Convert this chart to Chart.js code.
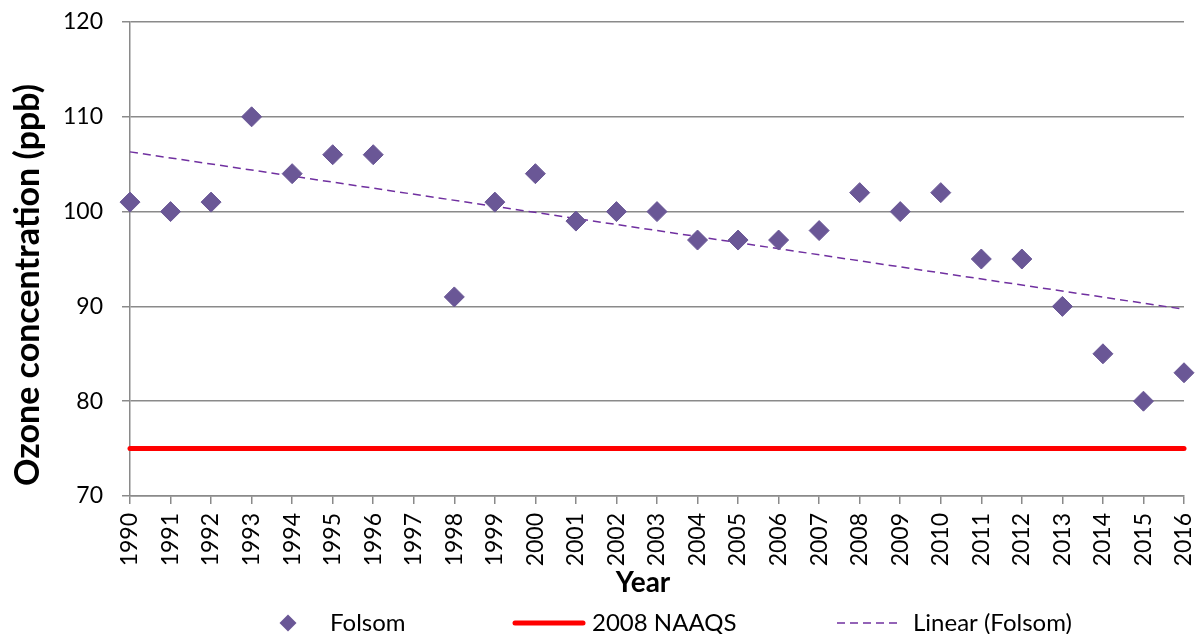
<!DOCTYPE html>
<html>
<head>
<meta charset="utf-8">
<script src="https://cdn.jsdelivr.net/npm/chart.js@4/dist/chart.umd.min.js"></script>
<style>
  html, body { margin: 0; padding: 0; background: #fff; }
  #wrap { width: 1198px; height: 634px; }
</style>
</head>
<body>
<div id="wrap"><canvas id="ozoneChart" width="1198" height="634"></canvas></div>
<script>
// values
const years = [1990, 1991, 1992, 1993, 1994, 1995, 1996, 1998, 1999, 2000, 2001, 2002, 2003,
    2004, 2005, 2006, 2007, 2008, 2009, 2010, 2011, 2012, 2013, 2014, 2015, 2016];
const folsom = [101, 100, 101, 110, 104, 106, 106, 91, 101, 104, 99, 100, 100,
    97, 97, 97, 98, 102, 100, 102, 95, 95, 90, 85, 80, 83];
const naaqsYears = [1990, 2016];
const naaqsValues = [75, 75];
const trendYears = [1990, 2016];
const trendValues = [106.3, 89.7];
const yTicks = [70, 80, 90, 100, 110, 120];

const FONT = 'Lato, "Open Sans", sans-serif';
const GRID = '#8a8a8a';
const PURPLE = '#6A5796';

function toPoints(xs, ys) {
    return xs.map((x, i) => ({ x: x, y: ys[i] }));
}

// titles + legend drawn on the canvas
const extras = {
    id: 'extras',
    afterDraw(chart) {
        const ctx = chart.ctx;
        ctx.save();
        ctx.fillStyle = '#000';

        // y axis title
        ctx.font = 'bold 34px ' + FONT;
        ctx.textAlign = 'center';
        ctx.textBaseline = 'middle';
        ctx.translate(28, 285);
        ctx.rotate(-Math.PI / 2);
        ctx.fillText('Ozone concentration (ppb)', 0, 0);
        ctx.setTransform(1, 0, 0, 1, 0, 0);

        // x axis title
        ctx.font = 'bold 28px ' + FONT;
        ctx.fillText('Year', 643, 583);

        // legend
        const ds = chart.data.datasets;
        const ly = 623;
        ctx.font = '24px ' + FONT;
        ctx.textAlign = 'left';

        // Folsom diamond
        ctx.fillStyle = ds[0].backgroundColor;
        ctx.beginPath();
        ctx.moveTo(288 - 8.5, ly);
        ctx.lineTo(288, ly - 8.5);
        ctx.lineTo(288 + 8.5, ly);
        ctx.lineTo(288, ly + 8.5);
        ctx.closePath();
        ctx.fill();
        ctx.fillStyle = '#000';
        ctx.fillText(ds[0].label, 330, ly);

        // NAAQS line
        ctx.strokeStyle = ds[1].borderColor;
        ctx.lineWidth = ds[1].borderWidth;
        ctx.lineCap = 'round';
        ctx.beginPath();
        ctx.moveTo(515, ly);
        ctx.lineTo(583, ly);
        ctx.stroke();
        ctx.fillText(ds[1].label, 592, ly);

        // trend line
        ctx.strokeStyle = ds[2].borderColor;
        ctx.lineWidth = ds[2].borderWidth;
        ctx.lineCap = 'butt';
        ctx.setLineDash(ds[2].borderDash);
        ctx.beginPath();
        ctx.moveTo(837, ly);
        ctx.lineTo(898, ly);
        ctx.stroke();
        ctx.setLineDash([]);
        ctx.fillText(ds[2].label, 913, ly);

        ctx.restore();
    }
};

document.addEventListener('DOMContentLoaded', function () {
    const ctx = document.getElementById('ozoneChart').getContext('2d');

    new Chart(ctx, {
        type: 'scatter',
        data: {
            datasets: [
                {
                    label: 'Folsom',
                    data: toPoints(years, folsom),
                    pointStyle: 'rectRot',
                    pointRadius: 10,
                    pointHoverRadius: 10,
                    backgroundColor: PURPLE,
                    borderColor: PURPLE,
                    borderWidth: 1,
                    showLine: false,
                    clip: false,
                },
                {
                    label: '2008 NAAQS',
                    data: toPoints(naaqsYears, naaqsValues),
                    showLine: true,
                    borderColor: '#FF0000',
                    borderWidth: 5,
                    borderCapStyle: 'round',
                    pointRadius: 0,
                    clip: false,
                },
                {
                    label: 'Linear (Folsom)',
                    data: toPoints(trendYears, trendValues),
                    showLine: true,
                    borderColor: '#7030A0',
                    borderWidth: 1.5,
                    borderDash: [8, 5],
                    pointRadius: 0,
                    clip: false,
                }
            ]
        },
        options: {
            responsive: false,
            animation: false,
            layout: { padding: { top: 22, right: 14, bottom: 0, left: 0 } },
            plugins: {
                legend: { display: false },
                tooltip: { enabled: false }
            },
            scales: {
                x: {
                    type: 'linear',
                    min: 1990,
                    max: 2016,
                    afterFit: (scale) => {
                        scale.height = 138;
                        scale.paddingLeft = 0;
                        scale.paddingRight = 0;
                    },
                    ticks: {
                        stepSize: 1,
                        autoSkip: false,
                        maxRotation: 90,
                        minRotation: 90,
                        padding: 9,
                        color: '#000',
                        font: { family: FONT, size: 23 },
                        callback: (v) => String(v)
                    },
                    grid: {
                        drawOnChartArea: false,
                        color: GRID,
                        lineWidth: 1.5,
                        tickLength: 8
                    },
                    border: { color: GRID, width: 1.5 }
                },
                y: {
                    min: 70,
                    max: 120,
                    afterFit: (scale) => {
                        scale.width = 130;
                        scale.paddingTop = 0;
                        scale.paddingBottom = 0;
                    },
                    afterBuildTicks: (scale) => {
                        scale.ticks = yTicks.map(v => ({ value: v }));
                    },
                    ticks: {
                        padding: 19,
                        color: '#000',
                        font: { family: FONT, size: 23 }
                    },
                    grid: {
                        color: GRID,
                        lineWidth: 1.5,
                        tickLength: 8
                    },
                    border: { color: GRID, width: 1.5 }
                }
            }
        },
        plugins: [extras]
    });
});
</script>
</body>
</html>
